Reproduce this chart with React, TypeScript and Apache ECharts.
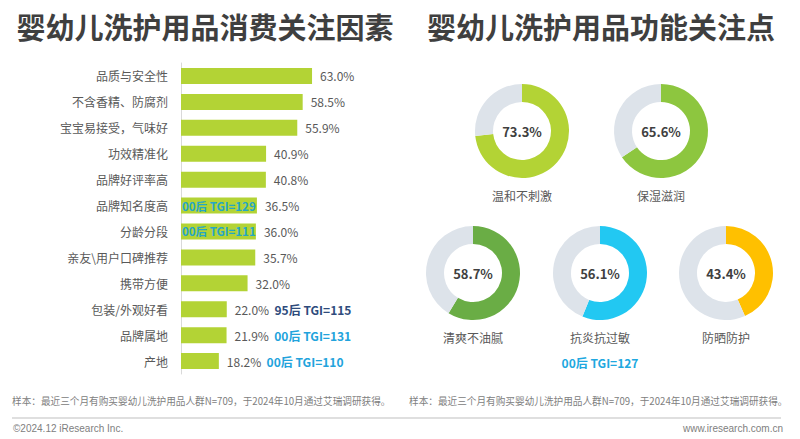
import React, { useEffect, useRef } from "react";
import * as echarts from "echarts";

const categories = [
  "品质与安全性",
  "不含香精、防腐剂",
  "宝宝易接受，气味好",
  "功效精准化",
  "品牌好评率高",
  "品牌知名度高",
  "分龄分段",
  "亲友\\用户口碑推荐",
  "携带方便",
  "包装/外观好看",
  "品牌属地",
  "产地",
];
const values = [63.0, 58.5, 55.9, 40.9, 40.8, 36.5, 36.0, 35.7, 32.0, 22.0, 21.9, 18.2];
const tgiInside = ["", "", "", "", "", "00后 TGI=129", "00后 TGI=111", "", "", "", "", ""];
const tgiOutside = ["", "", "", "", "", "", "", "", "", "95后 TGI=115", "00后 TGI=131", "00后 TGI=110"];
const tgiOutsideStyle = ["", "", "", "", "", "", "", "", "", "navy", "blue", "blue"];

const donutNames = ["温和不刺激", "保湿滋润", "清爽不油腻", "抗炎抗过敏", "防晒防护"];
const donutValues = [73.3, 65.6, 58.7, 56.1, 43.4];
const donutColors = ["#b3d335", "#8dc63f", "#6aad45", "#22c8f2", "#ffc000"];
const donutCenters: [number, number][] = [
  [522, 131],
  [661, 131],
  [473, 273],
  [600, 273],
  [726, 273],
];
const donutTgi = ["", "", "", "00后 TGI=127", ""];

const titles = ["婴幼儿洗护用品消费关注因素", "婴幼儿洗护用品功能关注点"];
const footnote = "样本：最近三个月有购买婴幼儿洗护用品人群N=709，于2024年10月通过艾瑞调研获得。";

export default function App() {
  const ref = useRef<HTMLDivElement>(null);
  useEffect(() => {
    document.body.style.margin = "0";
    const chart = echarts.init(ref.current!, null, { renderer: "svg" });
    const font = "'Noto Sans CJK SC', 'Noto Sans', sans-serif";

    const pieSeries = donutValues.map((v, i) => ({
      type: "pie",
      silent: true,
      center: donutCenters[i],
      radius: [29, 47],
      startAngle: 90,
      clockwise: true,
      label: { show: false },
      labelLine: { show: false },
      data: [
        {
          value: v,
          name: donutNames[i],
          itemStyle: { color: donutColors[i] },
          label: {
            show: true,
            position: "center",
            formatter: v.toFixed(1) + "%",
            fontSize: 13,
            fontWeight: "bold",
            color: "#404040",
            fontFamily: font,
          },
        },
        { value: +(100 - v).toFixed(1), name: "other", itemStyle: { color: "#dde3ea" } },
      ],
    }));

    const graphics: any[] = [];
    graphics.push({
      type: "text",
      x: 205,
      y: 26,
      style: {
        text: titles[0],
        fontSize: 29,
        fontWeight: "bold",
        fill: "#3f3f3f",
        fontFamily: font,
        align: "center",
        verticalAlign: "middle",
      },
    });
    graphics.push({
      type: "text",
      x: 601,
      y: 26,
      style: {
        text: titles[1],
        fontSize: 29,
        fontWeight: "bold",
        fill: "#3f3f3f",
        fontFamily: font,
        align: "center",
        verticalAlign: "middle",
      },
    });
    donutNames.forEach((n, i) => {
      graphics.push({
        type: "text",
        x: donutCenters[i][0],
        y: donutCenters[i][1] + 64,
        style: {
          text: n,
          fontSize: 12,
          fill: "#595959",
          fontFamily: font,
          align: "center",
          verticalAlign: "middle",
        },
      });
      if (donutTgi[i]) {
        graphics.push({
          type: "text",
          x: donutCenters[i][0],
          y: donutCenters[i][1] + 89,
          style: {
            text: donutTgi[i],
            fontSize: 12,
            fontWeight: "bold",
            fill: "#20a8e0",
            fontFamily: font,
            align: "center",
            verticalAlign: "middle",
          },
        });
      }
    });
    [12, 409].forEach((x) => {
      graphics.push({
        type: "text",
        x,
        y: 401,
        scaleX: 0.965,
        style: {
          text: footnote,
          fontSize: 10,
          fill: "#808080",
          fontFamily: font,
          align: "left",
          verticalAlign: "middle",
        },
      });
    });
    graphics.push({
      type: "line",
      shape: { x1: 12, y1: 418, x2: 781, y2: 418 },
      style: { stroke: "#bfbfbf", lineWidth: 1 },
    });
    graphics.push({
      type: "text",
      x: 13,
      y: 428,
      style: {
        text: "©2024.12 iResearch Inc.",
        fontSize: 10,
        fill: "#808080",
        fontFamily: "'Liberation Sans', Arial, sans-serif",
        align: "left",
        verticalAlign: "middle",
      },
    });
    graphics.push({
      type: "text",
      x: 783,
      y: 428,
      style: {
        text: "www.iresearch.com.cn",
        fontSize: 10,
        fill: "#808080",
        fontFamily: "'Liberation Sans', Arial, sans-serif",
        align: "right",
        verticalAlign: "middle",
      },
    });

    chart.setOption({
      animation: false,
      textStyle: { fontFamily: font },
      grid: { left: 181, top: 63, width: 208, height: 311, containLabel: false },
      xAxis: {
        type: "value",
        min: 0,
        max: 100,
        show: false,
      },
      yAxis: {
        type: "category",
        data: categories,
        inverse: true,
        axisLine: { show: true, lineStyle: { color: "#d9d9d9", width: 1 } },
        axisTick: { show: false },
        axisLabel: { fontSize: 12, color: "#595959", margin: 13, fontFamily: font },
      },
      series: [
        {
          type: "bar",
          silent: true,
          barWidth: 16,
          data: values,
          itemStyle: { color: "#b3d335" },
          label: {
            show: true,
            position: "right",
            distance: 8,
            fontFamily: font,
            formatter: (p: any) => {
              const i = p.dataIndex;
              const v = values[i].toFixed(1) + "%";
              if (tgiOutside[i]) {
                return "{v|" + v + "}  {" + tgiOutsideStyle[i] + "|" + tgiOutside[i] + "}";
              }
              return "{v|" + v + "}";
            },
            rich: {
              v: { fontSize: 12, color: "#595959", fontFamily: font },
              navy: { fontSize: 12, fontWeight: "bold", color: "#2e4b7c", fontFamily: font },
              blue: { fontSize: 12, fontWeight: "bold", color: "#22a3dc", fontFamily: font },
            },
          },
        },
        {
          type: "bar",
          silent: true,
          barWidth: 16,
          barGap: "-100%",
          data: values,
          itemStyle: { color: "transparent" },
          label: {
            show: true,
            position: "insideLeft",
            distance: 1,
            formatter: (p: any) => tgiInside[p.dataIndex],
            fontSize: 11.5,
            fontWeight: "bold",
            color: "#25a6c6",
            fontFamily: font,
          },
        },
        ...pieSeries,
      ],
      graphic: graphics,
    });
    return () => chart.dispose();
  }, []);
  return <div ref={ref} style={{ width: 800, height: 439 }} />;
}
